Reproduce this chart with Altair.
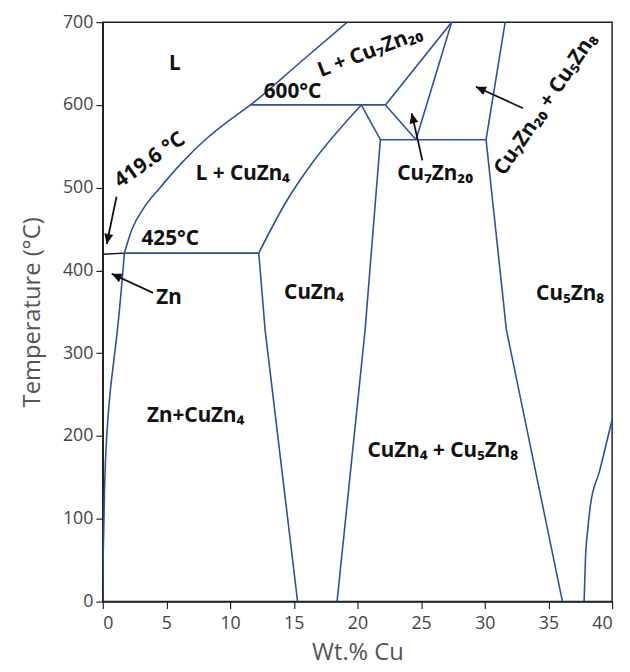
import math
import altair as alt
import pandas as pd

# ---------------- phase boundaries (Wt.% Cu, Temperature in °C) ----------------
# curved boundaries
liquidus_x = [1.7, 2.3, 3.2, 4.5, 6.2, 8.2, 10.0, 11.6, 15.4, 19.2]
liquidus_y = [421, 450, 475, 500, 530, 560, 582, 600, 650, 700]
zn_solvus_x = [0.0, 0.03, 0.08, 0.13, 0.21, 0.35, 0.55, 0.85, 1.2, 1.7]
zn_solvus_y = [0, 50, 89, 129, 169, 209, 248, 289, 335, 421]
cuzn4_liq_x = [12.25, 14.4, 16.5, 20.3]
cuzn4_liq_y = [421, 483, 531, 600]
cu5zn8_right_x = [37.8, 37.9, 38.1, 38.3, 39.0, 40.0]
cu5zn8_right_y = [0, 50, 89, 117, 157, 220]

# straight boundaries
eutectic_x = [1.7, 12.25]
eutectic_y = [421, 421]
cuzn4_left_x = [12.25, 12.75, 15.3]
cuzn4_left_y = [421, 328, 0]
peritectic600_x = [11.6, 22.2]
peritectic600_y = [600, 600]
cuzn4_top_x = [20.3, 21.8]
cuzn4_top_y = [600, 558]
cuzn4_right_x = [21.8, 20.6, 18.4]
cuzn4_right_y = [558, 328, 0]
peritectic558_x = [21.8, 30.1]
peritectic558_y = [558, 558]
cu7zn20_left_x = [22.2, 24.6]
cu7zn20_left_y = [600, 558]
cu7zn20_right_x = [27.4, 24.6]
cu7zn20_right_y = [700, 558]
l_cu7zn20_x = [22.2, 27.4]
l_cu7zn20_y = [600, 700]
cu5zn8_upper_x = [31.6, 30.1]
cu5zn8_upper_y = [700, 558]
cu5zn8_left_x = [30.1, 31.7, 36.1]
cu5zn8_left_y = [558, 328, 0]

# Zn melting point marker
zn_melt_x = [0.0, 1.7]
zn_melt_y = [419.6, 421]

# ---------------- labels ----------------
label_text = ["L", "600°C", "425°C", "419.6 °C", "Zn", "L + CuZn₄",
              "L + Cu₇Zn₂₀", "Cu₇Zn₂₀", "Cu₇Zn₂₀ + Cu₅Zn₈", "CuZn₄",
              "Cu₅Zn₈", "Zn+CuZn₄", "CuZn₄ + Cu₅Zn₈"]
label_x = [5.66, 14.9, 5.3, 3.7, 5.2, 11.0, 21.0, 26.1, 34.8, 16.6, 36.7, 7.3, 26.7]
label_y = [649, 616, 438, 533, 367, 516, 664, 516, 601, 373, 372, 224, 182]
label_angle = [0, 0, 0, 325, 0, 0, 339, 0, 304, 0, 0, 0, 0]

# ---------------- arrows (start -> tip) ----------------
arrow_x = [1.08, 3.95, 25.1, 33.0]
arrow_y = [489, 373, 533, 596]
arrow_x2 = [0.31, 0.7, 24.26, 29.3]
arrow_y2 = [432, 396, 590, 622]

# axis ticks
x_ticks = [0, 5, 10, 15, 20, 25, 30, 35, 40]
y_ticks = [0, 100, 200, 300, 400, 500, 600, 700]

W, H = 516, 587
XMAX, YMAX = 40, 700

BLUE = "#2E4EA0"


def seg_frame(segs):
    rows = []
    for name, (xs, ys) in segs.items():
        for i, (xv, yv) in enumerate(zip(xs, ys)):
            rows.append({"seg": name, "i": i, "x": xv, "y": yv})
    return pd.DataFrame(rows)


curves = seg_frame({
    "liquidus": (liquidus_x, liquidus_y),
    "zn_solvus": (zn_solvus_x, zn_solvus_y),
    "cuzn4_liq": (cuzn4_liq_x, cuzn4_liq_y),
    "cu5zn8_right": (cu5zn8_right_x, cu5zn8_right_y),
})
straights = seg_frame({
    "eutectic": (eutectic_x, eutectic_y),
    "cuzn4_left": (cuzn4_left_x, cuzn4_left_y),
    "p600": (peritectic600_x, peritectic600_y),
    "cuzn4_top": (cuzn4_top_x, cuzn4_top_y),
    "cuzn4_right": (cuzn4_right_x, cuzn4_right_y),
    "p558": (peritectic558_x, peritectic558_y),
    "c7l": (cu7zn20_left_x, cu7zn20_left_y),
    "c7r": (cu7zn20_right_x, cu7zn20_right_y),
    "lc7": (l_cu7zn20_x, l_cu7zn20_y),
    "c5u": (cu5zn8_upper_x, cu5zn8_upper_y),
    "c5l": (cu5zn8_left_x, cu5zn8_left_y),
})
melt = seg_frame({"melt": (zn_melt_x, zn_melt_y)})

labels = pd.DataFrame({"text": label_text, "x": label_x, "y": label_y, "angle": label_angle})

angles = []
for a, b, c, d in zip(arrow_x, arrow_y, arrow_x2, arrow_y2):
    dx = (c - a) * W / XMAX
    dy = -(d - b) * H / YMAX
    angles.append(math.degrees(math.atan2(dx, -dy)) % 360)
arrows = pd.DataFrame({"x": arrow_x, "y": arrow_y, "x2": arrow_x2, "y2": arrow_y2, "angle": angles})

xscale = alt.Scale(domain=[0, XMAX], nice=False, zero=False)
yscale = alt.Scale(domain=[0, YMAX], nice=False, zero=False)

xaxis = alt.Axis(values=x_ticks, grid=False, title="Wt.% Cu", titleFontSize=24,
                 titleFont="Open Sans", titleFontWeight="normal", titleColor="#555555",
                 titlePadding=9, labelFont="Open Sans", labelFontSize=18,
                 labelColor="#444444", labelPadding=6, tickSize=7, tickColor="#222222",
                 domainColor="#222222", domainWidth=1.5, tickWidth=1.2)
yaxis = alt.Axis(values=y_ticks, grid=False, title="Temperature (°C)", titleFontSize=24,
                 titleFont="Open Sans", titleFontWeight="normal", titleColor="#555555",
                 titlePadding=18, labelFont="Open Sans", labelFontSize=18,
                 labelColor="#444444", labelPadding=3, tickSize=7, tickColor="#222222",
                 domainColor="#222222", domainWidth=1.5, tickWidth=1.2)

X = alt.X("x:Q", scale=xscale, axis=xaxis)
Y = alt.Y("y:Q", scale=yscale, axis=yaxis)

curve_layer = alt.Chart(curves).mark_line(color=BLUE, strokeWidth=1.6, interpolate="monotone", clip=True).encode(
    x=X, y=Y, detail="seg:N", order="i:Q")
straight_layer = alt.Chart(straights).mark_line(color=BLUE, strokeWidth=1.6, clip=True).encode(
    x="x:Q", y="y:Q", detail="seg:N", order="i:Q")
melt_layer = alt.Chart(melt).mark_line(color="#111111", strokeWidth=1.3).encode(
    x="x:Q", y="y:Q", detail="seg:N", order="i:Q")

arrow_shaft = alt.Chart(arrows).mark_rule(color="#111111", strokeWidth=1.8).encode(
    x="x:Q", y="y:Q", x2="x2:Q", y2="y2:Q")
arrow_head = alt.Chart(arrows).mark_point(
    shape="M0,0 L-0.45,1 L0.45,1 Z", filled=True, color="#111111", opacity=1, size=420, strokeWidth=0).encode(
    x="x2:Q", y="y2:Q", angle=alt.Angle("angle:Q", scale=None))

text_layer = alt.Chart(labels).mark_text(font="Noto Sans", fontWeight="bold", fontSize=21,
                                         color="#111111", align="center", baseline="middle").encode(
    x="x:Q", y="y:Q", text="text:N", angle=alt.Angle("angle:Q", scale=None))

chart = alt.layer(curve_layer, straight_layer, melt_layer, arrow_shaft, arrow_head, text_layer).properties(
    width=W, height=H,
    autosize=alt.AutoSizeParams(type="none"),
    padding={"left": 96, "top": 10, "right": 10, "bottom": 66},
    background="white",
).configure_view(stroke="#222222", strokeWidth=1.5)

chart.save("out.html", embed_options={"renderer": "svg", "actions": False})
